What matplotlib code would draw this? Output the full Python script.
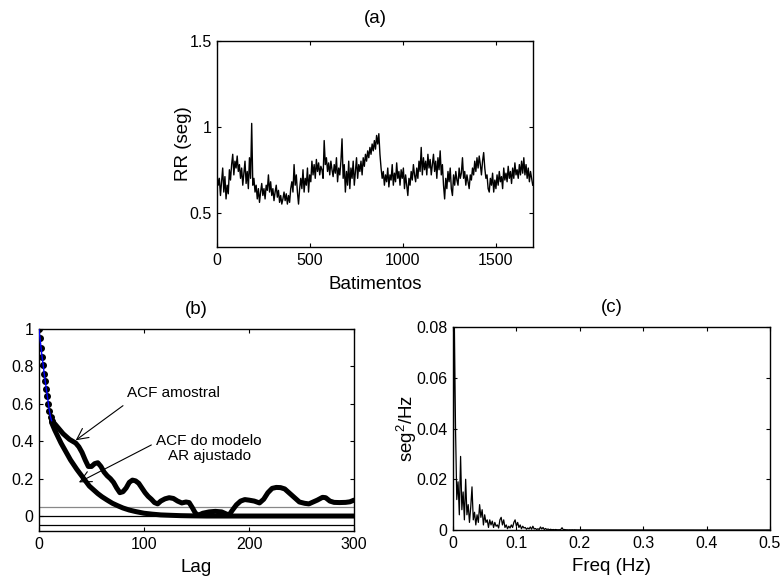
import numpy as np
import matplotlib
matplotlib.use("Agg")
import matplotlib.pyplot as plt

plt.rcParams['font.family'] = ['Liberation Sans', 'DejaVu Sans']
plt.rcParams['mathtext.fontset'] = 'custom'
plt.rcParams['mathtext.rm'] = 'Liberation Sans'
plt.rcParams['mathtext.it'] = 'Liberation Sans'

# ---------------- (a) RR series, every 6th beat ----------------
rr_step = 6
rr_values = [
    0.72, 0.66, 0.70, 0.60, 0.68, 0.76, 0.62, 0.71, 0.58, 0.66,
    0.61, 0.75, 0.69, 0.78, 0.84, 0.72, 0.80, 0.76, 0.83, 0.74,
    0.78, 0.70, 0.76, 0.66, 0.73, 0.80, 0.67, 0.74, 0.64, 0.82,
    0.70, 1.02, 0.66, 0.70, 0.62, 0.66, 0.58, 0.64, 0.56, 0.62,
    0.67, 0.60, 0.64, 0.58, 0.66, 0.63, 0.72, 0.62, 0.68, 0.60,
    0.64, 0.57, 0.62, 0.66, 0.59, 0.63, 0.56, 0.60, 0.55, 0.58,
    0.62, 0.57, 0.61, 0.55, 0.60, 0.56, 0.64, 0.68, 0.62, 0.78,
    0.66, 0.72, 0.62, 0.55, 0.64, 0.70, 0.64, 0.75, 0.62, 0.70,
    0.66, 0.76, 0.62, 0.72, 0.68, 0.80, 0.72, 0.78, 0.70, 0.81,
    0.74, 0.79, 0.72, 0.77, 0.75, 0.70, 0.92, 0.78, 0.82, 0.74,
    0.79, 0.72, 0.80, 0.75, 0.71, 0.78, 0.73, 0.82, 0.68, 0.76,
    0.72, 0.80, 0.93, 0.70, 0.78, 0.62, 0.74, 0.66, 0.80, 0.64,
    0.76, 0.70, 0.80, 0.66, 0.74, 0.82, 0.70, 0.78, 0.74, 0.80,
    0.72, 0.82, 0.77, 0.84, 0.80, 0.86, 0.82, 0.88, 0.84, 0.90,
    0.86, 0.92, 0.87, 0.95, 0.90, 0.96, 0.84, 0.76, 0.70, 0.74,
    0.66, 0.72, 0.68, 0.76, 0.65, 0.72, 0.69, 0.78, 0.66, 0.73,
    0.68, 0.79, 0.70, 0.74, 0.66, 0.75, 0.70, 0.76, 0.64, 0.72,
    0.66, 0.60, 0.70, 0.66, 0.74, 0.69, 0.78, 0.72, 0.68, 0.76,
    0.70, 0.80, 0.74, 0.88, 0.72, 0.82, 0.75, 0.80, 0.72, 0.84,
    0.76, 0.81, 0.72, 0.78, 0.84, 0.74, 0.80, 0.70, 0.82, 0.75,
    0.86, 0.72, 0.78, 0.66, 0.58, 0.70, 0.64, 0.74, 0.68, 0.76,
    0.64, 0.60, 0.72, 0.66, 0.74, 0.69, 0.66, 0.76, 0.70, 0.73,
    0.82, 0.70, 0.74, 0.66, 0.72, 0.68, 0.64, 0.72, 0.69, 0.76,
    0.72, 0.80, 0.74, 0.82, 0.76, 0.83, 0.78, 0.72, 0.80, 0.85,
    0.76, 0.70, 0.72, 0.64, 0.62, 0.70, 0.66, 0.73, 0.62, 0.69,
    0.64, 0.72, 0.66, 0.74, 0.68, 0.71, 0.64, 0.76, 0.69, 0.73,
    0.68, 0.77, 0.70, 0.74, 0.67, 0.76, 0.70, 0.79, 0.72, 0.75,
    0.70, 0.78, 0.72, 0.80, 0.73, 0.82, 0.72, 0.78, 0.70, 0.76,
    0.68, 0.74, 0.70, 0.66,
]
rr_beats = np.arange(len(rr_values)) * rr_step

# ---------------- (b) ACFs ----------------
acf_start_lags = [0, 1, 2, 3, 4, 5, 6, 7, 8, 9, 10, 11, 12]
acf_start_vals = [1.0, 0.95, 0.90, 0.85, 0.81, 0.76, 0.72, 0.68, 0.64, 0.60, 0.56, 0.53, 0.51]

acf_sample_lags = [12, 14, 17, 20, 23, 26, 29, 32, 35, 38, 41, 44, 47, 50, 53, 56, 59,
                   62, 65, 68, 71, 74, 77, 80, 83, 86, 89, 92, 95, 98, 101, 104, 107,
                   110, 113, 116, 120, 124, 128, 132, 136, 140, 143, 146, 149, 152,
                   156, 162, 168, 174, 178, 181, 184, 188, 192, 196, 200, 205, 210,
                   214, 218, 222, 226, 230, 234, 238, 243, 248, 253, 257, 261, 265,
                   270, 273, 277, 281, 286, 292, 296, 300]
acf_sample_vals = [0.51, 0.50, 0.48, 0.46, 0.44, 0.425, 0.41, 0.40, 0.39, 0.37, 0.34,
                   0.30, 0.265, 0.265, 0.28, 0.285, 0.265, 0.235, 0.215, 0.20, 0.18,
                   0.15, 0.125, 0.13, 0.15, 0.18, 0.192, 0.188, 0.175, 0.15, 0.125,
                   0.105, 0.09, 0.072, 0.065, 0.08, 0.092, 0.098, 0.094, 0.08, 0.07,
                   0.075, 0.072, 0.045, 0.015, 0.005, 0.015, 0.022, 0.025, 0.022,
                   0.012, 0.005, 0.03, 0.06, 0.08, 0.088, 0.085, 0.08, 0.07, 0.09,
                   0.125, 0.148, 0.153, 0.152, 0.145, 0.125, 0.10, 0.075, 0.068, 0.065,
                   0.075, 0.085, 0.10, 0.098, 0.08, 0.073, 0.072, 0.073, 0.076, 0.085]

acf_model_lags = [12, 15, 18, 21, 24, 27, 30, 33, 36, 40, 44, 48, 52, 56, 60, 65, 70,
                  75, 80, 86, 92, 100, 108, 116, 125, 135, 145, 160, 200, 250, 300]
acf_model_vals = [0.50, 0.46, 0.425, 0.39, 0.36, 0.33, 0.30, 0.275, 0.25, 0.22, 0.19,
                  0.16, 0.14, 0.12, 0.103, 0.085, 0.068, 0.055, 0.043, 0.032, 0.024,
                  0.015, 0.010, 0.006, 0.004, 0.002, 0.001, 0.0, 0.0, 0.0, 0.0]

conf_levels = [0.05, 0.0, -0.05]

# ---------------- (c) spectrum ----------------
psd_freq_step = 0.002
psd_values = [
    0.0, 0.085, 0.040, 0.012, 0.019, 0.006, 0.029, 0.008, 0.015, 0.004,
    0.020, 0.006, 0.010, 0.003, 0.009, 0.017, 0.004, 0.007, 0.002, 0.006,
    0.003, 0.010, 0.005, 0.008, 0.002, 0.006, 0.003, 0.004, 0.001, 0.004,
    0.002, 0.0035, 0.001, 0.003, 0.0015, 0.002, 0.0008, 0.004, 0.005, 0.002,
    0.004, 0.001, 0.002, 0.0005, 0.0015, 0.0008, 0.002, 0.001, 0.003, 0.004,
    0.0015, 0.003, 0.001, 0.002, 0.0005, 0.0015, 0.0008, 0.001, 0.0003, 0.0008,
    0.0004, 0.0012, 0.0003, 0.0015, 0.0004, 0.0006, 0.0002, 0.0005, 0.0002, 0.0012,
    0.0004, 0.001, 0.0002, 0.0006, 0.0002, 0.0004, 0.0001, 0.0003, 0.0001, 0.0002,
    0.0001, 0.0002, 0.0001, 0.0001, 0.0001, 0.0002, 0.0009, 0.0001, 0.0002, 0.0001,
    0.0001, 0.00005, 0.0001, 0.00005, 0.0001, 0.00005, 0.0001, 0.00005, 0.00005, 0.00005,
    0.00005,
]
psd_freq = np.arange(len(psd_values)) * psd_freq_step
psd_tail_freq = [0.25, 0.30, 0.35, 0.40, 0.45, 0.50]
psd_tail_vals = [0.00003, 0.00002, 0.00002, 0.00001, 0.00001, 0.00001]

# ---------------- figure ----------------
fig = plt.figure(figsize=(7.81, 5.79), dpi=100)
ax_a = fig.add_axes([0.278, 0.5734, 0.4046, 0.3558])
ax_b = fig.add_axes([0.0499, 0.0829, 0.4034, 0.3489])
ax_c = fig.add_axes([0.580, 0.0846, 0.4059, 0.3506])

tick_fs = 11.5
lab_fs = 13.5
title_pad = 11


def style(ax):
    ax.tick_params(direction='in', top=True, right=True, labelsize=tick_fs,
                   length=3, width=0.8, pad=4)
    for s in ax.spines.values():
        s.set_linewidth(1.0)


# (a)
ax_a.plot(rr_beats, rr_values, color='black', lw=1.0)
ax_a.set_xlim(0, 1700)
ax_a.set_ylim(0.3, 1.5)
ax_a.set_xticks([0, 500, 1000, 1500])
ax_a.set_xticklabels(['0', '500', '1000', '1500'])
ax_a.set_yticks([0.5, 1.0, 1.5])
ax_a.set_yticklabels(['0.5', '1', '1.5'])
ax_a.set_xlabel('Batimentos', fontsize=lab_fs, labelpad=6)
ax_a.set_ylabel('RR (seg)', fontsize=lab_fs, labelpad=-2)
ax_a.set_title('(a)', fontsize=lab_fs, pad=title_pad + 2)
style(ax_a)

# (b)
for lvl, col in zip(conf_levels, ['#888888', 'black', 'black']):
    ax_b.axhline(lvl, color=col, lw=0.9, zorder=1)
ax_b.plot(acf_sample_lags, acf_sample_vals, color='black', lw=3.6,
          solid_joinstyle='round', solid_capstyle='round', zorder=3)
ax_b.plot(acf_model_lags, acf_model_vals, color='black', lw=3.6,
          solid_joinstyle='round', solid_capstyle='round', zorder=3)
ax_b.plot(acf_start_lags, acf_start_vals, color='black', lw=0, marker='o',
          markersize=4, zorder=4)
ax_b.plot(acf_start_lags, acf_start_vals, color='blue', lw=1.0, zorder=5)
ax_b.set_xlim(0, 300)
ax_b.set_ylim(-0.08, 1.0)
ax_b.set_xticks([0, 100, 200, 300])
ax_b.set_xticklabels(['0', '100', '200', '300'])
ax_b.set_yticks([0, 0.2, 0.4, 0.6, 0.8, 1.0])
ax_b.set_yticklabels(['0', '0.2', '0.4', '0.6', '0.8', '1'])
ax_b.set_xlabel('Lag', fontsize=lab_fs, labelpad=5)
ax_b.set_title('(b)', fontsize=lab_fs, pad=title_pad)
ax_b.text(128, 0.66, 'ACF amostral', fontsize=11, ha='center', va='center')
ax_b.annotate('', xy=(35, 0.405), xytext=(80, 0.59),
              arrowprops=dict(arrowstyle='->', color='black', lw=0.8,
                              shrinkA=0, shrinkB=0, mutation_scale=20))
ax_b.text(162, 0.36, 'ACF do modelo\nAR ajustado', fontsize=11, ha='center',
          va='center', linespacing=1.05)
ax_b.annotate('', xy=(38, 0.18), xytext=(107, 0.38),
              arrowprops=dict(arrowstyle='->', color='black', lw=0.8,
                              shrinkA=0, shrinkB=0, mutation_scale=20))
style(ax_b)

# (c)
ax_c.plot(list(psd_freq) + psd_tail_freq, list(psd_values) + psd_tail_vals,
          color='black', lw=0.9)
ax_c.set_xlim(0, 0.5)
ax_c.set_ylim(0, 0.08)
ax_c.set_xticks([0, 0.1, 0.2, 0.3, 0.4, 0.5])
ax_c.set_xticklabels(['0', '0.1', '0.2', '0.3', '0.4', '0.5'])
ax_c.set_yticks([0, 0.02, 0.04, 0.06, 0.08])
ax_c.set_yticklabels(['0', '0.02', '0.04', '0.06', '0.08'])
ax_c.set_xlabel('Freq (Hz)', fontsize=lab_fs, labelpad=5)
ax_c.set_ylabel('seg$^2$/Hz', fontsize=lab_fs, labelpad=-2)
ax_c.set_title('(c)', fontsize=lab_fs, pad=title_pad)
style(ax_c)

fig.savefig('out.png', dpi=100)
